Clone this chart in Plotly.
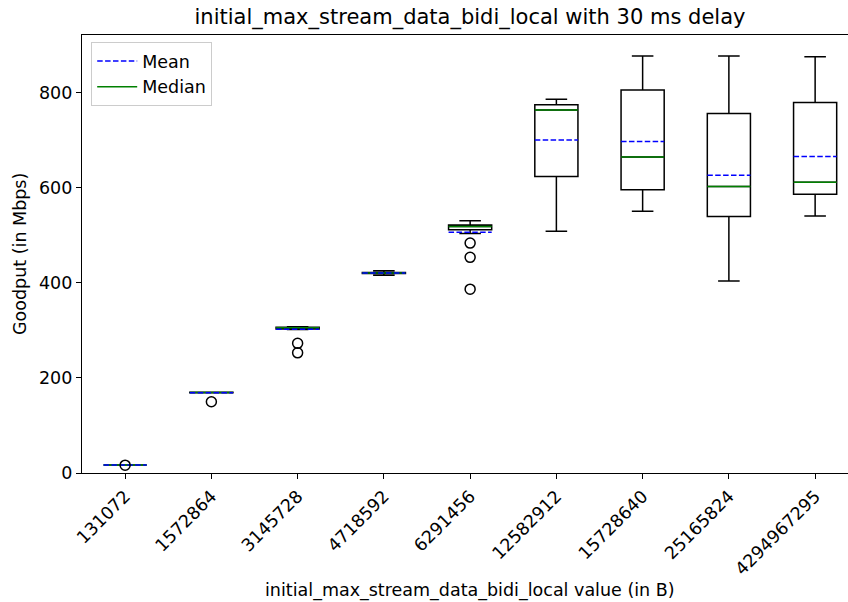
import plotly.graph_objects as go

# Goodput per initial_max_stream_data_bidi_local setting (Mbps)
labels = ["131072", "1572864", "3145728", "4718592", "6291456",
          "12582912", "15728640", "25165824", "4294967295"]
positions = list(range(1, len(labels) + 1))

q1 = [17, 169, 303, 420, 512, 624, 596, 540, 587]
median = [17, 169.5, 306, 421, 519, 764, 665, 603, 612]
q3 = [17, 170, 307, 422, 522, 775, 806, 757, 780]
lower_whisker = [17, 169, 302, 416.5, 504, 509, 551, 404, 541]
upper_whisker = [17, 170, 308, 425.5, 531, 787, 878, 878, 876]
mean = [17, 169, 302.5, 421, 507, 701, 698, 627, 666]

outlier_pos = [1, 2, 3, 3, 5, 5, 5]
outlier_val = [16.5, 150, 273, 253, 484, 454, 387]

BOX_W = 0.5
FONT = "DejaVu Sans"
LABEL_SIZE = 17.5
TITLE_SIZE = 21

fig = go.Figure()

fig.add_trace(go.Box(
    x=positions, q1=q1, median=median, q3=q3,
    lowerfence=lower_whisker, upperfence=upper_whisker,
    width=BOX_W, whiskerwidth=0.5,
    line=dict(color="black", width=1.5),
    fillcolor="rgba(0,0,0,0)",
    boxpoints=False, showlegend=False, hoverinfo="skip",
))


def segments(values):
    xs, ys = [], []
    for p, v in zip(positions, values):
        xs += [p - BOX_W / 2, p + BOX_W / 2, None]
        ys += [v, v, None]
    return xs, ys


mx, my = segments(median)
fig.add_trace(go.Scatter(
    x=mx, y=my, mode="lines", name="Median",
    line=dict(color="#008000", width=1.5),
))

ax, ay = segments(mean)
fig.add_trace(go.Scatter(
    x=ax, y=ay, mode="lines", name="Mean",
    line=dict(color="#0000ff", width=1.5, dash="5.5px,2.4px"),
))

fig.add_trace(go.Scatter(
    x=outlier_pos, y=outlier_val, mode="markers", showlegend=False,
    marker=dict(symbol="circle-open", size=10, color="black",
                line=dict(color="black", width=1.5)),
))

fig.update_layout(
    width=848, height=602,
    margin=dict(l=82, r=0, t=35, b=129),
    plot_bgcolor="white", paper_bgcolor="white",
    font=dict(family=FONT, size=LABEL_SIZE, color="black"),
    title=dict(text="initial_max_stream_data_bidi_local with 30 ms delay",
               x=470 / 848, xanchor="center", xref="container",
               y=1 - 17 / 602, yanchor="middle", yref="container",
               font=dict(size=TITLE_SIZE, family=FONT, color="black")),
    showlegend=True,
    legend=dict(x=0.012, y=0.984, xanchor="left", yanchor="top",
                bgcolor="rgba(255,255,255,0.8)", bordercolor="#cccccc",
                borderwidth=1, traceorder="reversed", tracegroupgap=0,
                itemwidth=40,
                font=dict(size=LABEL_SIZE, family=FONT)),
    xaxis=dict(
        range=[0.5, 0.5 + (848 - 82) / 86.25],
        tickmode="array", tickvals=positions, ticktext=labels,
        tickangle=-45, ticks="outside", ticklen=5, tickwidth=1.2,
        tickcolor="black", showline=True, linecolor="black", linewidth=1.2,
        mirror=True, showgrid=False, zeroline=False,
        tickfont=dict(size=LABEL_SIZE, family=FONT),
    ),
    yaxis=dict(
        range=[0, 922], tickvals=[0, 200, 400, 600, 800],
        ticks="outside", ticklen=5, tickwidth=1.2, tickcolor="black",
        showline=True, linecolor="black", linewidth=1.2,
        showgrid=False, zeroline=False,
        tickfont=dict(size=LABEL_SIZE, family=FONT),
    ),
    annotations=[
        dict(text="initial_max_stream_data_bidi_local value (in B)",
             xref="paper", yref="paper", x=(470 - 82) / 766, y=-(590 - 473) / 438,
             xanchor="center", yanchor="middle", showarrow=False,
             font=dict(size=LABEL_SIZE, family=FONT)),
        dict(text="Goodput (in Mbps)", textangle=-90,
             xref="paper", yref="paper", x=-(82 - 20) / 766, y=(473 - 254) / 438,
             xanchor="center", yanchor="middle", showarrow=False,
             font=dict(size=LABEL_SIZE, family=FONT)),
    ],
)

fig.write_html("out.html")
